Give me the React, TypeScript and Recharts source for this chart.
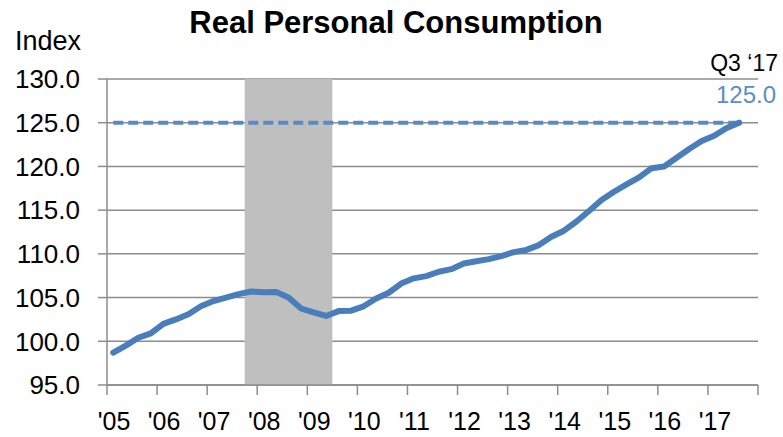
import {
  CartesianGrid,
  Line,
  LineChart,
  ReferenceArea,
  ReferenceLine,
  XAxis,
  YAxis,
} from "recharts";

const FONT = '"Liberation Sans", Arial, sans-serif';

// Quarterly index, Q1 2005 through Q3 2017
const years = [2005, 2006, 2007, 2008, 2009, 2010, 2011, 2012, 2013, 2014, 2015, 2016, 2017];
const yearLabels = ["'05", "'06", "'07", "'08", "'09", "'10", "'11", "'12", "'13", "'14", "'15", "'16", "'17"];
const consumption = [
  98.7, 99.5, 100.4, 100.9,
  102.0, 102.5, 103.1, 104.0,
  104.6, 105.0, 105.4, 105.7,
  105.6, 105.65, 105.0, 103.75,
  103.3, 102.9, 103.45, 103.5,
  104.0, 104.9, 105.55, 106.6,
  107.2, 107.45, 107.95, 108.25,
  108.9, 109.15, 109.4, 109.75,
  110.2, 110.45, 111.0, 111.95,
  112.65, 113.7, 114.9, 116.15,
  117.1, 117.95, 118.75, 119.8,
  120.0, 121.0, 122.0, 122.9,
  123.5, 124.4, 125.0,
];
const quarters = years
  .flatMap((y) => ["Q1", "Q2", "Q3", "Q4"].map((q) => `${y} ${q}`))
  .slice(0, consumption.length);
const yTicks = [95, 100, 105, 110, 115, 120, 125, 130];
const xTicks = [...years, 2018];
const recession = { start: "2007 Q4", end: "2009 Q2" };
const latestLabel = "Q3 \u201817";

// quarter label -> fractional year at the middle of the quarter
const quarterPos = (label: string) => {
  const [y, q] = label.split(" ");
  return Number(y) + (Number(q.slice(1)) - 1) / 4 + 0.125;
};

const data = quarters.map((q, i) => ({ quarter: q, x: quarterPos(q), value: consumption[i] }));
const first = data[0];
const last = data[data.length - 1];

const YearTick = (props: any) => {
  const { x, y, payload } = props;
  const idx = years.indexOf(payload.value);
  if (idx < 0) return null;
  return (
    <text x={x + 7} y={y + 33} textAnchor="middle" fontSize={25} fontFamily={FONT} fill="#000">
      {yearLabels[idx]}
    </text>
  );
};

export default function App() {
  return (
    <div style={{ position: "absolute", left: 0, top: 0, width: 783, height: 437, background: "#fff" }}>
      <LineChart
        width={783}
        height={437}
        data={data}
        margin={{ top: 79, right: 25, bottom: 0, left: 0 }}
      >
        <ReferenceArea
          x1={quarterPos(recession.start) - 0.125}
          x2={quarterPos(recession.end) + 0.125}
          fill="#bfbfbf"
          fillOpacity={1}
          stroke="none"
        />
        <CartesianGrid vertical={false} stroke="#8c8c8c" strokeWidth={1.5} />
        <XAxis
          dataKey="x"
          type="number"
          domain={[2005, 2018]}
          ticks={xTicks}
          interval={0}
          height={52}
          tickSize={10}
          axisLine={{ stroke: "#8c8c8c", strokeWidth: 1.5 }}
          tickLine={{ stroke: "#8c8c8c", strokeWidth: 1.5 }}
          tick={<YearTick />}
        />
        <YAxis
          domain={[95, 130]}
          ticks={yTicks}
          interval={0}
          width={107}
          tickSize={9}
          tickMargin={18}
          tickFormatter={(v: number) => v.toFixed(1)}
          axisLine={{ stroke: "#8c8c8c", strokeWidth: 1.5 }}
          tickLine={{ stroke: "#8c8c8c", strokeWidth: 1.5 }}
          tick={{ fontSize: 26, fontFamily: FONT, fill: "#000" }}
        />
        <ReferenceLine
          segment={[
            { x: first.x, y: last.value },
            { x: last.x, y: last.value },
          ]}
          stroke="#5a8ac6"
          strokeWidth={4}
          strokeDasharray="10 5"
        />
        <Line
          type="linear"
          dataKey="value"
          stroke="#4a7ebb"
          strokeWidth={6}
          strokeLinejoin="round"
          strokeLinecap="round"
          dot={false}
          isAnimationActive={false}
        />
      </LineChart>
      <svg
        width={783}
        height={437}
        style={{ position: "absolute", left: 0, top: 0, pointerEvents: "none" }}
        fontFamily={FONT}
      >
        <text x={396} y={33} textAnchor="middle" fontSize={31} fontWeight="bold" fill="#000">
          Real Personal Consumption
        </text>
        <text x={15} y={50} fontSize={27} fill="#000">
          Index
        </text>
        <text x={778} y={71} textAnchor="end" fontSize={23} fill="#000">
          {latestLabel}
        </text>
        <text x={776} y={103} textAnchor="end" fontSize={24} fill="#5b8ccb">
          {last.value.toFixed(1)}
        </text>
      </svg>
    </div>
  );
}
